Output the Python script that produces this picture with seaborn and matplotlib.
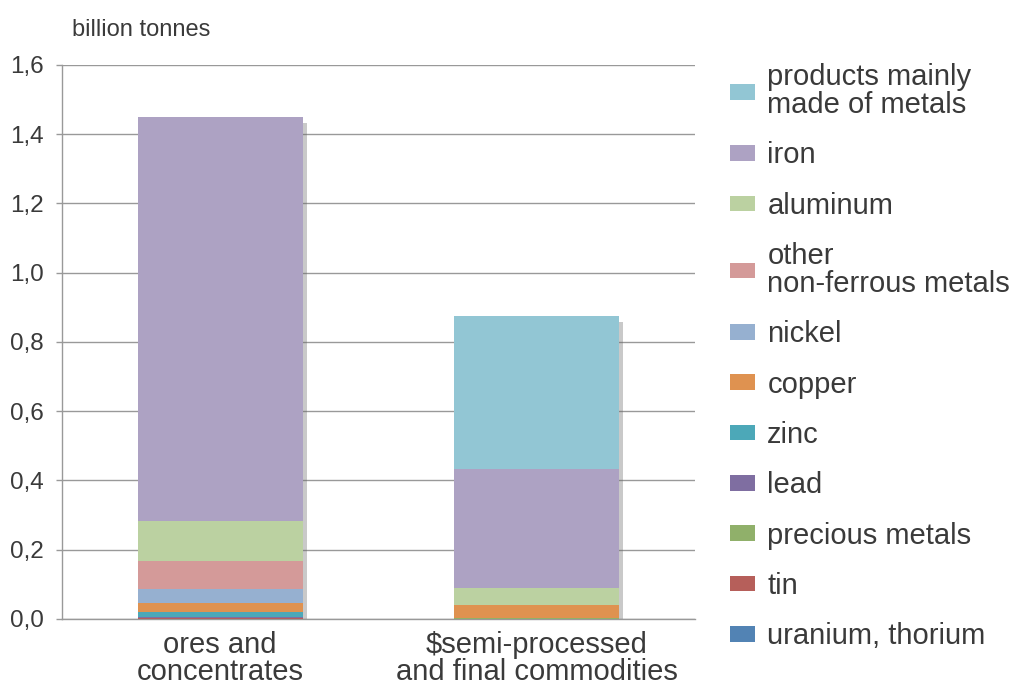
import matplotlib
matplotlib.use("Agg")
import matplotlib.pyplot as plt
import matplotlib.patheffects as pe
from matplotlib.patches import Patch
import seaborn as sns
import pandas as pd
import numpy as np

categories = ["ores and\nconcentrates", "\\$semi-processed\nand final commodities"]
# stacking order bottom -> top
series = ["uranium, thorium", "tin", "precious metals", "lead", "zinc", "copper",
          "nickel", "other\nnon-ferrous metals", "aluminum", "iron",
          "products mainly\nmade of metals"]
ores = [0.001, 0.001, 0.001, 0.003, 0.015, 0.026, 0.041, 0.078, 0.117, 1.166, 0.0]
semi = [0.0, 0.001, 0.001, 0.001, 0.001, 0.036, 0.0, 0.0, 0.050, 0.343, 0.442]
colors = ["#5283B4", "#B65F5A", "#90B06A", "#7F6EA1", "#4CA8B8", "#DF9250",
          "#96B0D0", "#D49A99", "#BBD1A1", "#ADA2C3", "#92C6D4"]
yticks = [0.0, 0.2, 0.4, 0.6, 0.8, 1.0, 1.2, 1.4, 1.6]
ytick_labels = ["0,0", "0,2", "0,4", "0,6", "0,8", "1,0", "1,2", "1,4", "1,6"]

sns.set_theme(style="white")
plt.rcParams["font.family"] = ["Liberation Sans", "DejaVu Sans"]
txt = "#3a3a3a"

fig = plt.figure(figsize=(10.11, 6.86), dpi=100)
ax = fig.add_axes([0.0613, 0.0977, 0.6262, 0.8076])

width = 0.52
totals = [float(np.sum(ores)), float(np.sum(semi))]
tot_df = pd.DataFrame({"cat": categories, "val": totals})
sns.barplot(data=tot_df, x="cat", y="val", color="white", width=width,
            saturation=1, ax=ax, zorder=2, linewidth=0,
            path_effects=[pe.SimplePatchShadow(offset=(3, -4), shadow_rgbFace="#666666", alpha=0.35)])

bottom = np.zeros(2)
for name, a, b, c in zip(series, ores, semi, colors):
    vals = np.array([a, b])
    d = pd.DataFrame({"cat": categories, "val": vals})
    sns.barplot(data=d, x="cat", y="val", color=c, width=width, saturation=1,
                bottom=bottom, ax=ax, zorder=3, linewidth=0)
    bottom = bottom + vals

ax.set_xlim(-0.5, 1.5)
ax.set_ylim(0, 1.6)
ax.set_yticks(yticks)
ax.set_yticklabels(ytick_labels, fontsize=17.5, color=txt)
ax.set_xlabel("")
ax.set_ylabel("")
ax.tick_params(axis="x", which="major", length=0, labelsize=21, labelcolor=txt, pad=9)
ax.set_xticks([0.5, 1.5], minor=True)
ax.tick_params(axis="x", which="minor", length=7, color="#999999", direction="out", width=1)
ax.tick_params(axis="y", length=4, color="#999999", direction="out", width=1, left=True, pad=9)
for lab in ax.get_xticklabels():
    lab.set_linespacing(0.95)

ax.yaxis.grid(True, color="#999999", linewidth=1)
ax.set_axisbelow(True)
for s in ["top", "right"]:
    ax.spines[s].set_visible(False)
for s in ["left", "bottom"]:
    ax.spines[s].set_color("#999999")
    ax.spines[s].set_linewidth(1)

fig.text(0.071, 0.956, "billion tonnes", fontsize=17, color=txt, va="center")

handles = [Patch(facecolor=c, edgecolor="none") for c in colors][::-1]
labels = series[::-1]
leg = fig.legend(handles, labels, loc="upper left", bbox_to_anchor=(0.722, 0.908),
                 frameon=False, fontsize=21, handlelength=0.86, handleheight=0.45,
                 handletextpad=0.42, labelspacing=0.765, borderaxespad=0, borderpad=0)
for t in leg.get_texts():
    t.set_color(txt)
    t.set_linespacing(1.0)

fig.savefig("out.png", dpi=100)
